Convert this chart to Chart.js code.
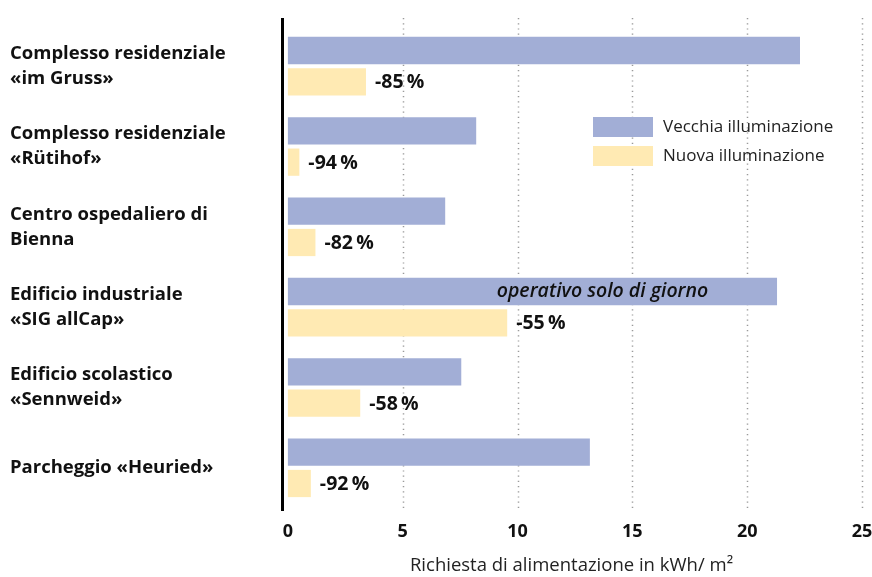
<!DOCTYPE html>
<html>
<head>
<meta charset="utf-8">
<script src="https://cdn.jsdelivr.net/npm/chart.js@4/dist/chart.umd.min.js"></script>
<style>
  body { margin: 0; background: #fff; }
  #wrap { width: 872px; height: 577px; }
</style>
</head>
<body>
<div id="wrap"><canvas id="chart" width="872" height="577"></canvas></div>
<script>
// ---------- DATA ----------
const categories = [
  ["Complesso residenziale", "«im Gruss»"],
  ["Complesso residenziale", "«Rütihof»"],
  ["Centro ospedaliero di", "Bienna"],
  ["Edificio industriale", "«SIG allCap»"],
  ["Edificio scolastico", "«Sennweid»"],
  "Parcheggio «Heuried»",
];
const oldLighting = [22.3, 8.2, 6.85, 21.3, 7.55, 13.15];
const newLighting = [3.4, 0.5, 1.2, 9.55, 3.15, 1.0];
const reductions = ["-85", "-94", "-82", "-55", "-58", "-92"];
const seriesNames = ["Vecchia illuminazione", "Nuova illuminazione"];
const xTicks = [0, 5, 10, 15, 20, 25];
const noteText = "operativo solo di giorno";
const noteIndex = 3;
const noteAt = 13.7;

const OLD_COLOR = "#a2aed6";
const NEW_COLOR = "#ffeab3";
const FONT = "'Open Sans', 'Noto Sans', sans-serif";

// ---------- PLUGINS ----------
// dotted grid + black axis line, a bit taller than the chart area
const gridPlugin = {
  id: "gridLines",
  beforeDatasetsDraw(chart) {
    const { ctx, chartArea, scales } = chart;
    ctx.save();
    ctx.strokeStyle = "#9a9a9a";
    ctx.lineWidth = 1.5;
    ctx.setLineDash([1.2, 4]);
    xTicks.slice(1).forEach((v) => {
      const x = Math.round(scales.x.getPixelForValue(v)) + 0.5;
      ctx.beginPath();
      ctx.moveTo(x, chartArea.top - 8);
      ctx.lineTo(x, chartArea.bottom + 3);
      ctx.stroke();
    });
    ctx.setLineDash([]);
    ctx.strokeStyle = "#000";
    ctx.lineWidth = 3;
    ctx.beginPath();
    ctx.moveTo(chartArea.left + 1.5, chartArea.top - 8);
    ctx.lineTo(chartArea.left + 1.5, chartArea.bottom + 3);
    ctx.stroke();
    ctx.restore();
  },
};

// percent labels, note in bar, legend
const labelPlugin = {
  id: "labels",
  afterDatasetsDraw(chart) {
    const { ctx, chartArea, scales } = chart;
    ctx.save();
    ctx.textBaseline = "middle";

    ctx.fillStyle = "#111";
    ctx.font = "bold 19.5px " + FONT;
    ctx.textAlign = "left";
    chart.getDatasetMeta(1).data.forEach((bar, i) => {
      ctx.fillText(reductions[i] + "\u2009%", bar.x + 9, bar.y + 1);
    });

    const noteBar = chart.getDatasetMeta(0).data[noteIndex];
    ctx.font = "italic 600 19.5px " + FONT;
    ctx.textAlign = "center";
    ctx.fillText(noteText, scales.x.getPixelForValue(noteAt), noteBar.y);

    // legend
    const lx = chartArea.right - 269;
    const ly = chartArea.top + 91;
    ctx.font = "17px " + FONT;
    ctx.textAlign = "left";
    [OLD_COLOR, NEW_COLOR].forEach((c, i) => {
      ctx.fillStyle = c;
      ctx.fillRect(lx, ly + i * 29, 60, 20);
      ctx.fillStyle = "#222";
      ctx.fillText(seriesNames[i], lx + 70, ly + i * 29 + 10);
    });
    ctx.restore();
  },
};

// ---------- CHART ----------
new Chart(document.getElementById("chart").getContext("2d"), {
  type: "bar",
  data: {
    labels: categories,
    datasets: [
      {
        label: seriesNames[0],
        data: oldLighting,
        backgroundColor: OLD_COLOR,
        barPercentage: 0.87,
        categoryPercentage: 0.78,
      },
      {
        label: seriesNames[1],
        data: newLighting,
        backgroundColor: NEW_COLOR,
        barPercentage: 0.87,
        categoryPercentage: 0.78,
      },
    ],
  },
  options: {
    indexAxis: "y",
    responsive: false,
    animation: false,
    layout: { padding: { left: 10, top: 26, right: 10, bottom: 0 } },
    plugins: {
      legend: { display: false },
      tooltip: { enabled: false },
    },
    scales: {
      x: {
        min: -0.3,
        max: 25,
        afterBuildTicks: (axis) => {
          axis.ticks = xTicks.map((v) => ({ value: v }));
        },
        afterFit: (axis) => {
          axis.height = 69;
          axis.paddingLeft = 0;
          axis.paddingRight = 0;
        },
        grid: { display: false, drawTicks: false },
        border: { display: false },
        ticks: {
          padding: 13,
          color: "#111",
          font: { family: FONT, size: 18, weight: "bold" },
        },
        title: {
          display: true,
          text: "Richiesta di alimentazione in kWh/ m²",
          color: "#222",
          padding: { top: 0, bottom: 0 },
          font: { family: FONT, size: 18.5, weight: "500" },
        },
      },
      y: {
        afterFit: (axis) => {
          axis.width = 271;
        },
        grid: { display: false, drawTicks: false },
        border: { display: false },
        ticks: {
          crossAlign: "far",
          color: "#111",
          font: { family: FONT, size: 18.5, weight: "bold", lineHeight: 1.35 },
        },
      },
    },
  },
  plugins: [gridPlugin, labelPlugin],
});
</script>
</body>
</html>
